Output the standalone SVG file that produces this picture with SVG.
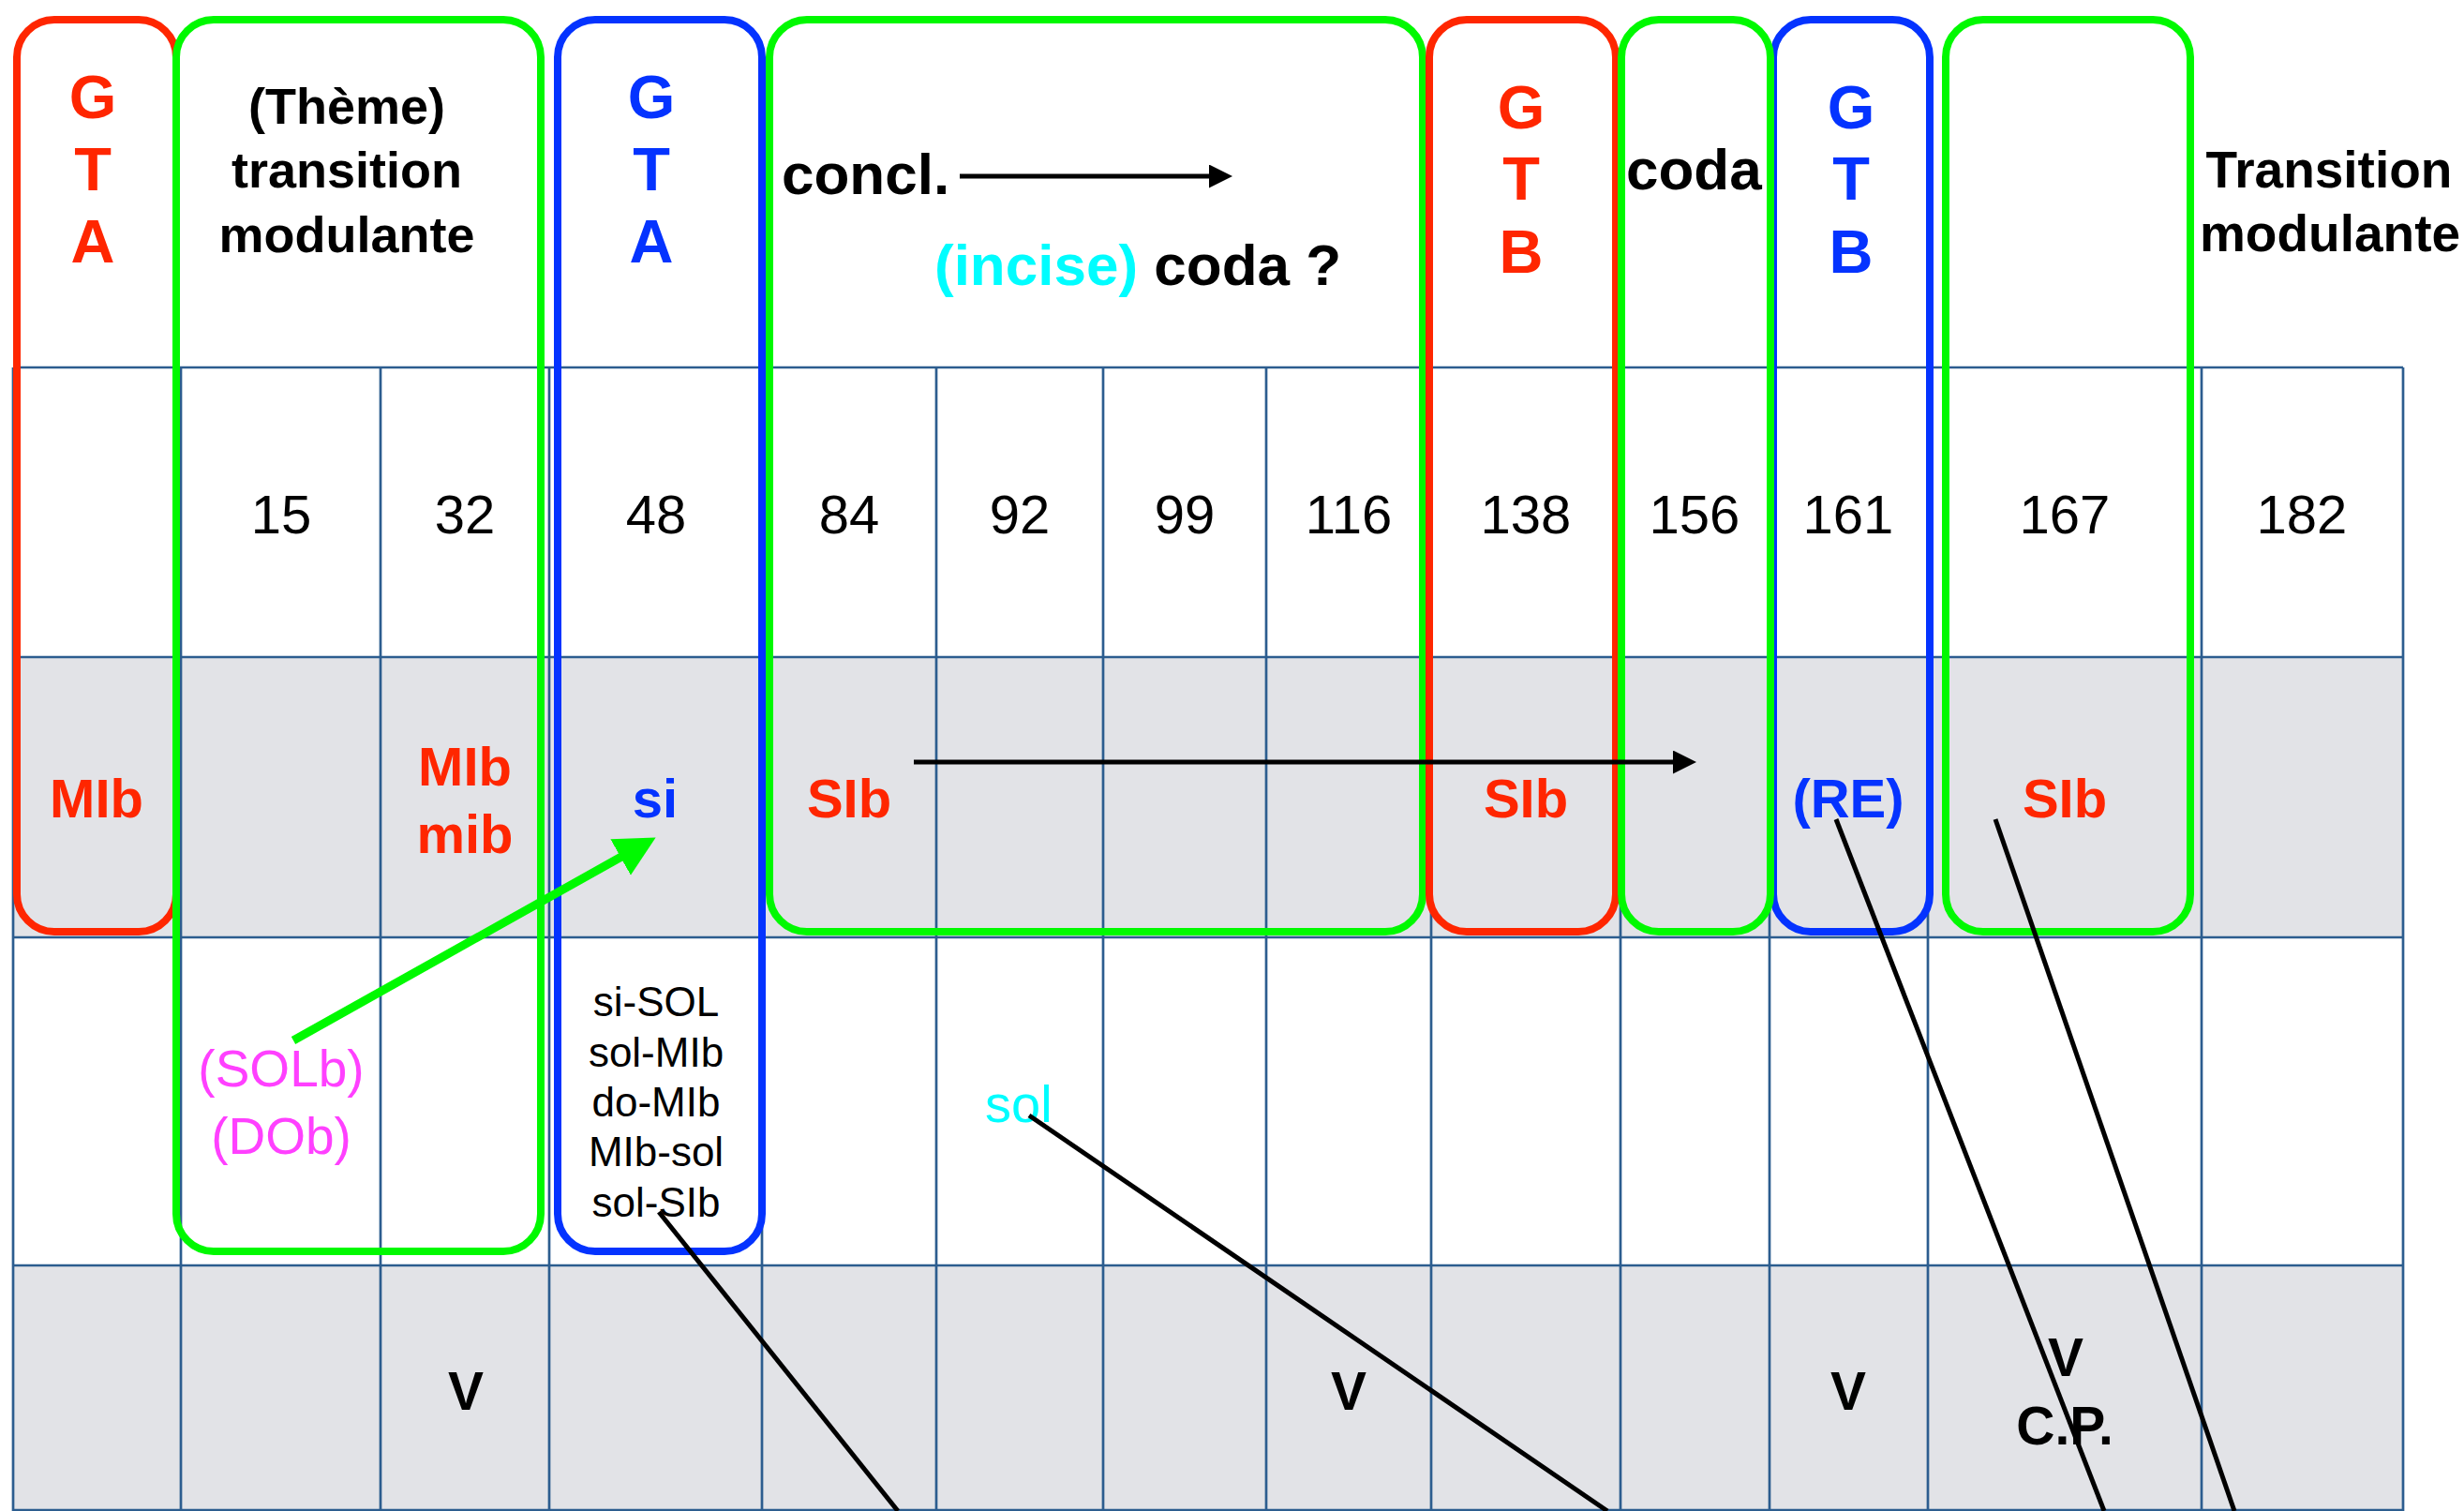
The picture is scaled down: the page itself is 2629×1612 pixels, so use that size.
<svg xmlns="http://www.w3.org/2000/svg" width="2629" height="1612" viewBox="0 0 2629 1612">
<style>
text{font-family:"Liberation Sans",Arial,Helvetica,sans-serif}
.gl{stroke:#2C5D8F;stroke-width:2.7;fill:none}
.box{fill:none;stroke-width:8}
.r{stroke:#FF2600}.g{stroke:#00F900}.b{stroke:#0433FF}
.fr{fill:#FF2600}.fb{fill:#0433FF}.fc{fill:#00FDFF}.fm{fill:#FF40FF}.fk{fill:#000}
.big{font-size:65px;font-weight:bold;text-anchor:middle}
.hd{font-size:54px;font-weight:bold;text-anchor:middle}
.hd2{font-size:62px;font-weight:bold}
.num{font-size:58px;text-anchor:middle}
.key{font-size:58px;font-weight:bold;text-anchor:middle}
.sm{font-size:44px;text-anchor:middle}
.mg{font-size:55px;text-anchor:middle}
.v{font-size:57px;font-weight:bold;text-anchor:middle}
.conn{stroke:#000;stroke-width:5;fill:none}
</style>
<defs>
<marker id="ah" markerUnits="userSpaceOnUse" markerWidth="26" markerHeight="26" refX="1" refY="12.5" orient="auto"><path d="M0,0 L25,12.5 L0,25 z" fill="#000"/></marker>
<marker id="ahg" markerUnits="userSpaceOnUse" markerWidth="44" markerHeight="46" refX="1" refY="22" orient="auto"><path d="M0,0 L43,22 L0,44 z" fill="#00F900"/></marker>
</defs>
<rect width="2629" height="1612" fill="#fff"/>
<g id="table">
<rect x="14" y="701" width="2550" height="299" fill="#E2E3E7"/>
<rect x="14" y="1350" width="2550" height="262" fill="#E2E3E7"/>
<g class="gl">
<line x1="14" y1="392" x2="2564" y2="392"/>
<line x1="14" y1="701" x2="2564" y2="701"/>
<line x1="14" y1="1000" x2="2564" y2="1000"/>
<line x1="14" y1="1350" x2="2564" y2="1350"/>
<line x1="14" y1="1611" x2="2564" y2="1611"/>
<line x1="14" y1="392" x2="14" y2="1612"/>
<line x1="193" y1="392" x2="193" y2="1612"/>
<line x1="406" y1="392" x2="406" y2="1612"/>
<line x1="586" y1="392" x2="586" y2="1612"/>
<line x1="813" y1="392" x2="813" y2="1612"/>
<line x1="999" y1="392" x2="999" y2="1612"/>
<line x1="1177" y1="392" x2="1177" y2="1612"/>
<line x1="1351" y1="392" x2="1351" y2="1612"/>
<line x1="1527" y1="392" x2="1527" y2="1612"/>
<line x1="1729" y1="392" x2="1729" y2="1612"/>
<line x1="1888" y1="392" x2="1888" y2="1612"/>
<line x1="2057" y1="392" x2="2057" y2="1612"/>
<line x1="2349" y1="392" x2="2349" y2="1612"/>
<line x1="2564" y1="392" x2="2564" y2="1612"/>
</g>
<g class="num fk">
<text x="300" y="569">15</text>
<text x="496" y="569">32</text>
<text x="700" y="569">48</text>
<text x="906" y="569">84</text>
<text x="1088" y="569">92</text>
<text x="1264" y="569">99</text>
<text x="1439" y="569">116</text>
<text x="1628" y="569">138</text>
<text x="1808" y="569">156</text>
<text x="1972" y="569">161</text>
<text x="2203" y="569">167</text>
<text x="2456" y="569">182</text>
</g>
</g>
<g id="box-gta-red">
<rect class="box r" x="18" y="21" width="170" height="973" rx="40"/>
<text class="big fr" x="99" y="126">G</text>
<text class="big fr" x="99" y="203">T</text>
<text class="big fr" x="99" y="280">A</text>
<text class="key fr" x="103" y="872">MIb</text>
</g>
<g id="box-theme">
<rect class="box g" x="188" y="21" width="389" height="1314" rx="40"/>
<text class="hd fk" x="370" y="132">(Thème)</text>
<text class="hd fk" x="370" y="200">transition</text>
<text class="hd fk" x="370" y="269">modulante</text>
<text class="key fr" x="496" y="838">MIb</text>
<text class="key fr" x="496" y="910">mib</text>
<text class="mg fm" x="300" y="1159">(SOLb)</text>
<text class="mg fm" x="300" y="1231">(DOb)</text>
</g>
<g id="box-gta-blue">
<rect class="box b" x="595" y="21" width="218" height="1314" rx="40"/>
<text class="big fb" x="695" y="126">G</text>
<text class="big fb" x="695" y="203">T</text>
<text class="big fb" x="695" y="280">A</text>
<text class="key fb" x="699" y="872">si</text>
<text class="sm fk" x="700" y="1084">si-SOL</text>
<text class="sm fk" x="700" y="1138">sol-MIb</text>
<text class="sm fk" x="700" y="1191">do-MIb</text>
<text class="sm fk" x="700" y="1244">MIb-sol</text>
<text class="sm fk" x="700" y="1298">sol-SIb</text>
</g>
<g id="box-concl">
<rect class="box g" x="821" y="21" width="697" height="973" rx="40"/>
<text class="hd2 fk" x="834" y="207">concl.</text>
<text class="hd2 fk" x="997" y="304"><tspan class="fc">(incise)</tspan> coda ?</text>
<text class="key fr" x="906" y="872">SIb</text>
</g>
<g id="box-gtb-red">
<rect class="box r" x="1525" y="21" width="199" height="973" rx="40"/>
<text class="big fr" x="1623" y="137">G</text>
<text class="big fr" x="1623" y="213">T</text>
<text class="big fr" x="1623" y="291">B</text>
<text class="key fr" x="1628" y="872">SIb</text>
</g>
<g id="box-gtb-blue">
<rect class="box b" x="1892" y="21" width="167" height="973" rx="40"/>
<text class="big fb" x="1975" y="137">G</text>
<text class="big fb" x="1975" y="213">T</text>
<text class="big fb" x="1975" y="291">B</text>
<text class="key fb" x="1972" y="872">(RE)</text>
</g>
<g id="box-coda">
<rect class="box g" x="1730" y="21" width="159" height="973" rx="40"/>
<text class="hd2 fk" x="1735" y="202">coda</text>
</g>
<g id="box-167">
<rect class="box g" x="2076" y="21" width="261" height="973" rx="40"/>
<text class="key fr" x="2203" y="872">SIb</text>
</g>
<g id="label-transition">
<text class="hd fk" x="2485" y="200" style="font-size:55px">Transition</text>
<text class="hd fk" x="2486" y="268" style="font-size:55px">modulante</text>
</g>
<g id="row3-4-labels">
<text class="fc" x="1051" y="1197" style="font-size:56px">sol</text>
<text class="v fk" x="497" y="1504">V</text>
<text class="v fk" x="1439" y="1504">V</text>
<text class="v fk" x="1972" y="1504">V</text>
<text class="v fk" x="2204" y="1468">V</text>
<text class="v fk" x="2203" y="1541">C.P.</text>
</g>
<g id="connectors">
<line class="conn" x1="1024" y1="188" x2="1291" y2="188" marker-end="url(#ah)"/>
<line class="conn" x1="975" y1="813" x2="1786" y2="813" marker-end="url(#ah)"/>
<line x1="313" y1="1110" x2="663" y2="914" stroke="#00F900" stroke-width="9" marker-end="url(#ahg)"/>
<line class="conn" x1="703" y1="1293" x2="958" y2="1612"/>
<line class="conn" x1="1098" y1="1190" x2="1715" y2="1612"/>
<line class="conn" x1="1959" y1="874" x2="2245" y2="1612"/>
<line class="conn" x1="2129" y1="874" x2="2384" y2="1612"/>
</g>
</svg>
